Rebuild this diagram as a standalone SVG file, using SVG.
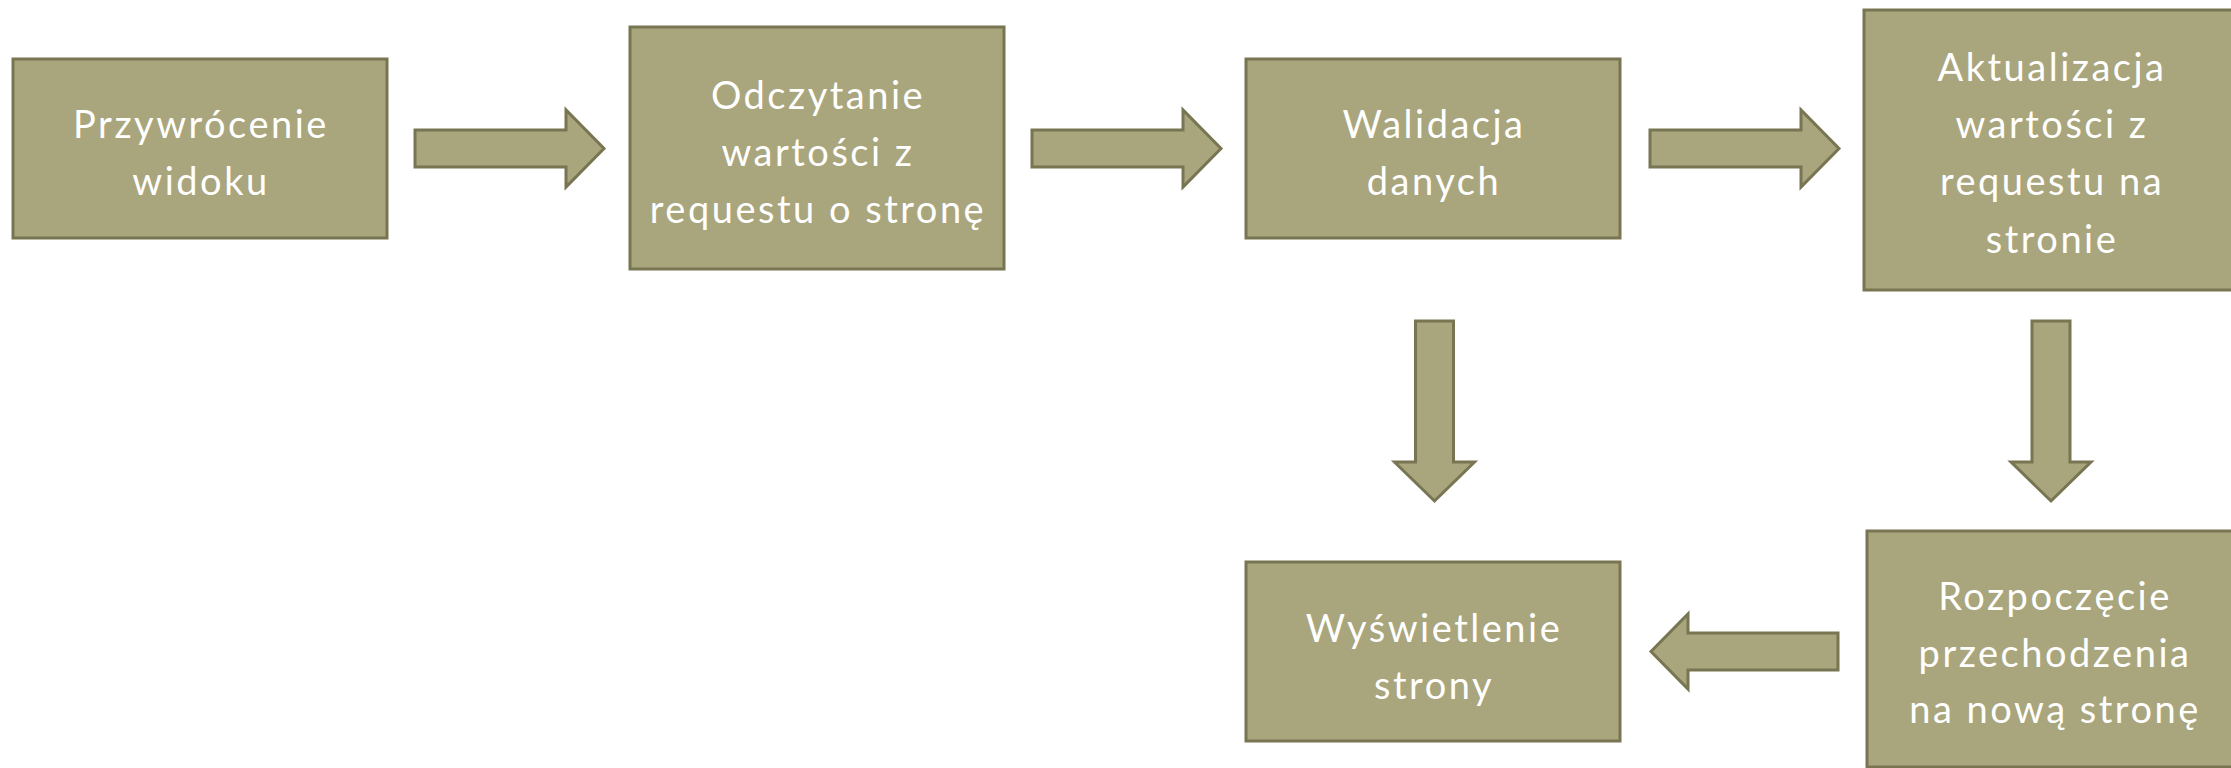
<svg xmlns="http://www.w3.org/2000/svg" width="2231" height="768" viewBox="0 0 2231 768">
<style>
.box{fill:#A9A57C;stroke:#787552;stroke-width:3}
.arr{fill:#A9A57C;stroke:#787552;stroke-width:3;stroke-linejoin:miter}
text{font-family:Lato,"Open Sans","Liberation Sans",sans-serif;font-size:38px;fill:#FFFFFF;text-anchor:middle;letter-spacing:2.5px}
</style>
<rect width="2231" height="768" fill="#FFFFFF"/>
<g id="connectors">
<polygon class="arr" points="415,130 566,130 566,110 604,148.5 566,187 566,167 415,167"/>
<polygon class="arr" points="1032,130 1183,130 1183,110 1221,148.5 1183,187 1183,167 1032,167"/>
<polygon class="arr" points="1650,130 1801,130 1801,110 1839,148.5 1801,187 1801,167 1650,167"/>
<polygon class="arr" points="1415.5,321 1453.5,321 1453.5,462 1474.5,462 1434.5,501 1394.5,462 1415.5,462"/>
<polygon class="arr" points="2032,321 2070,321 2070,462 2091,462 2051,501 2011,462 2032,462"/>
<polygon class="arr" points="1838,633 1688,633 1688,614 1651,651.5 1688,689 1688,670 1838,670"/>
</g>
<g id="n1">
<rect class="box" x="13" y="59" width="374" height="179"/>
<text x="201" y="138">Przywrócenie</text>
<text x="201" y="195">widoku</text>
</g>
<g id="n2">
<rect class="box" x="630" y="27" width="374" height="242"/>
<text x="818" y="109">Odczytanie</text>
<text x="818" y="166">wartości z</text>
<text x="818" y="223">requestu o stronę</text>
</g>
<g id="n3">
<rect class="box" x="1246" y="59" width="374" height="179"/>
<text x="1434" y="138">Walidacja</text>
<text x="1434" y="195">danych</text>
</g>
<g id="n4">
<rect class="box" x="1864" y="10" width="374" height="280"/>
<text x="2052" y="81">Aktualizacja</text>
<text x="2052" y="138">wartości z</text>
<text x="2052" y="195">requestu na</text>
<text x="2052" y="253">stronie</text>
</g>
<g id="n5">
<rect class="box" x="1246" y="562" width="374" height="179"/>
<text x="1434" y="642">Wyświetlenie</text>
<text x="1434" y="699">strony</text>
</g>
<g id="n6">
<rect class="box" x="1867" y="531" width="374" height="236"/>
<text x="2055" y="610">Rozpoczęcie</text>
<text x="2055" y="667">przechodzenia</text>
<text x="2055" y="723">na nową stronę</text>
</g>
</svg>
